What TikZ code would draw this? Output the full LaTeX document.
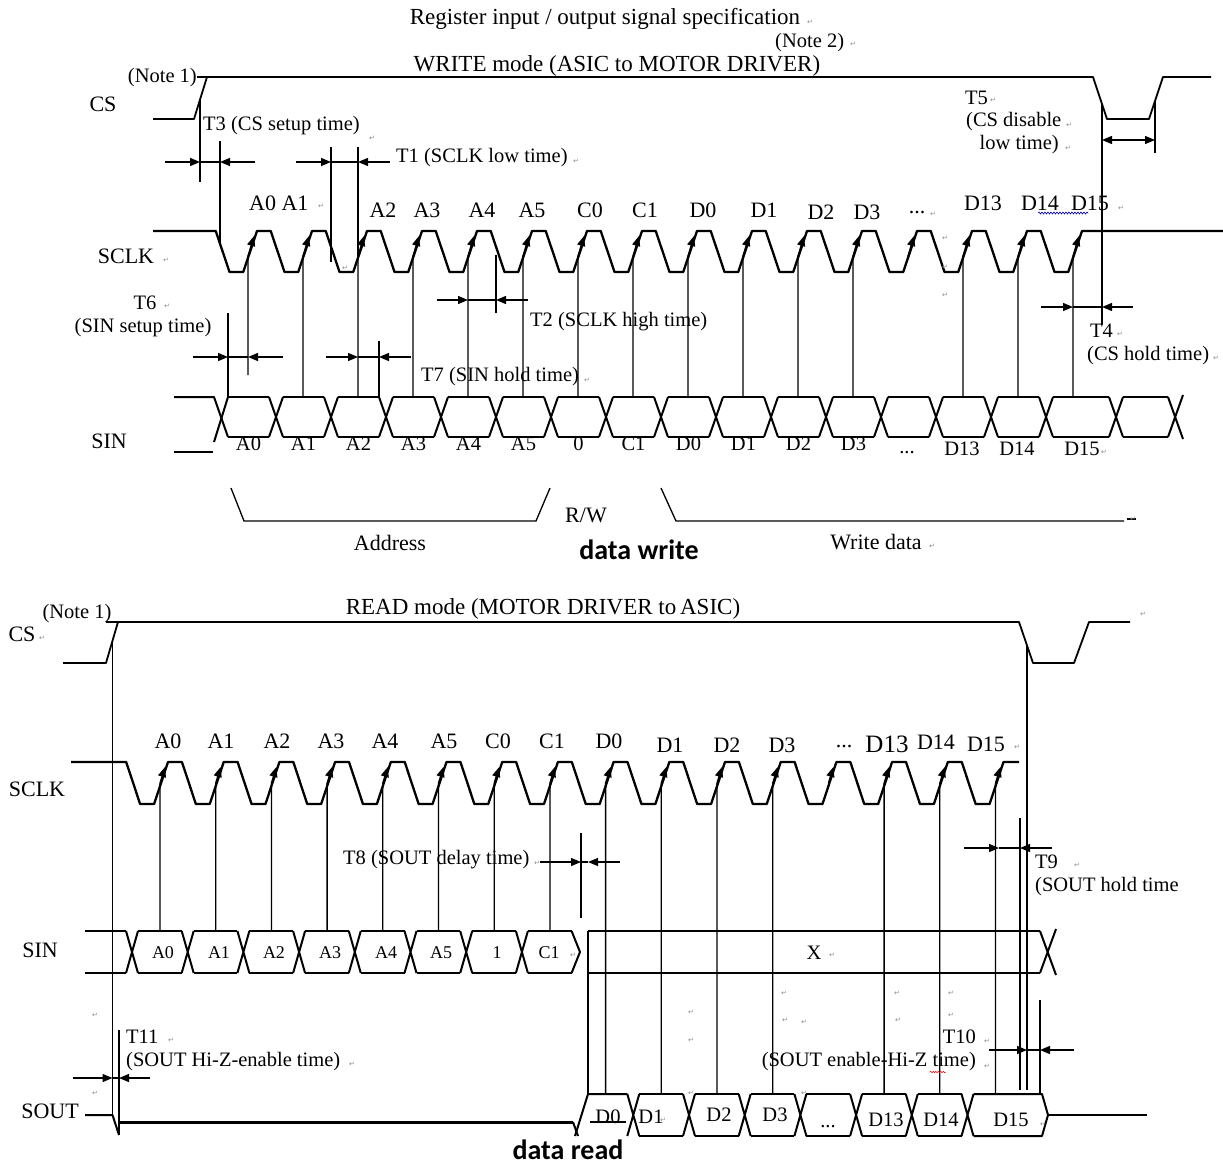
\documentclass[tikz,border=0pt]{standalone}
\usepackage{fontspec}
\setmainfont{Liberation Serif}
\newfontfamily\calibrifont{Carlito}
\newfontfamily\pmfont{DejaVu Sans}
\usetikzlibrary{arrows.meta,decorations.pathmorphing}
\begin{document}
\begin{tikzpicture}[x=1pt,y=-1pt,
  wv/.style={line width=2.3pt,line join=round},
  sinw/.style={line width=2pt,line join=round},
  csw/.style={line width=1.8pt,line join=round},
  mk/.style={line width=1.3pt},
  tipb/.style={-{Triangle[length=10pt,width=8pt]}},
  dbl/.style={{Triangle[length=10pt,width=8pt]}-{Triangle[length=10pt,width=8pt]}},
  lab/.style={inner sep=0pt,font=\fontsize{22}{26}\selectfont},
  tx/.style={inner sep=0pt,font=\fontsize{20.5}{24}\selectfont},
  hd/.style={inner sep=0pt,font=\fontsize{23}{27}\selectfont},
  sm/.style={inner sep=0pt,font=\fontsize{18}{22}\selectfont},
  bld/.style={inner sep=0pt,font=\calibrifont\bfseries\fontsize{28}{32}\selectfont},
  pm/.style={inner sep=0pt,text=black!45,font=\pmfont\fontsize{7}{8}\selectfont}
]
\useasboundingbox (0,0) rectangle (1223,1167);
\fill[white] (0,0) rectangle (1223,1167);

%================ WRITE MODE ================
\node[hd] (title) at (605,19) {Register input / output signal specification};
\node[tx,anchor=west] (note2) at (775,43) {(Note 2)};
\node[hd] (wmode) at (617,66) {WRITE mode (ASIC to MOTOR DRIVER)};
\node[tx,anchor=east] (note1w) at (197,78) {(Note 1)};
\node[lab] (wcs) at (103,104) {CS};
\node[lab] (wsclk) at (126,256) {SCLK};
\node[lab] (wsin) at (109,441) {SIN};

% CS
\draw[csw] (153,119)--(194,119)--(207,77)--(1093,77)--(1107,119)--(1149,119)--(1163,77)--(1211,77);
\draw[csw] (197,77)--(207,77);

% SCLK
\draw[wv] (153,231)--(215.75,231)--(229.5,272)--(243.25,272)--(257,231)
  \foreach \k in {0,...,14}{--({257+55*\k+13.75},231)--({257+55*\k+27.5},272)--({257+55*\k+41.25},272)--({257+55*\k+55},231)}
  --(1223,231);

% SCLK labels
\node[lab,anchor=west] (wlA01) at (249,203) {A0 A1};
\foreach \x/\y/\s [count=\i] in {383/210/A2,427/210/A3,482/210/A4,532/210/A5,590/210/C0,645/210/C1,703/210/D0,764/210/D1,821/212/D2,867/212/D3,983/203/D13,1040/203/D14,1090/203/D15}
  \node[lab] (wl\i) at (\x,\y) {\s};
\node[lab] (wldots) at (917,213) {...};
\draw[blue!75!black,line width=0.6pt,decorate,decoration={snake,amplitude=1pt,segment length=3pt}] (1038,213)--(1088,213);

% arrows from SIN up to SCLK rising edges
\foreach \k/\bt in {0/375,1/397,2/397,3/397,4/397,5/397,6/397,7/397,8/397,9/397,10/397,11/397,13/397,14/397,15/397}
  \draw[mk,tipb] ({257+55*\k-9},\bt)--({257+55*\k-9},256)--({257+55*\k-3},236);
\draw[mk,tipb] ({257+55*12-9},256)--({257+55*12-3},236);

% SIN write
\draw[sinw] (174,397)--(214,397)--(228,437);
\draw[sinw] (214,442)--(228,397);
\draw[sinw] (174,452)--(213,452);
\foreach \a/\b in {221/276,276/331,331/386,386/441,441/496,496/551,551/606,606/661,661/716,716/771,771/826,826/881,881/936,936/991,991/1046,1046/1116,1116/1175}
  \draw[sinw] ({\a+7},397)--({\b-7},397) ({\a+7},437)--({\b-7},437);
\foreach \c in {276,331,386,441,496,551,606,661,716,771,826,881,936,991,1046,1116}
  \draw[sinw] ({\c-7},397)--({\c+7},437) ({\c-7},437)--({\c+7},397);
\draw[sinw] (1168,397)--(1183,439) (1168,437)--(1183,395);

\foreach \x/\s [count=\i] in {248.5/A0,303.5/A1,358.5/A2,413.5/A3,468.5/A4,523.5/A5,578.5/0,633.5/C1,688.5/D0,743.5/D1,798.5/D2,853.5/D3}
  \node[tx] (ws\i) at (\x,444) {\s};
\node[tx] (wsdots) at (907,453) {...};
\node[tx] (ws13) at (962,449) {D13};
\node[tx] (ws14) at (1017,449) {D14};
\node[tx] (ws15) at (1082,449) {D15};

% T3
\draw[mk] (200,100)--(200,182);
\draw[mk] (220,141)--(220,244);
\draw[mk,tipb] (165,162)--(200,162);
\draw[mk,tipb] (255,162)--(220,162);
\draw[mk] (200,162)--(220,162);
\node[tx,anchor=west] (t3) at (203,126) {T3 (CS setup time)};
% T1
\draw[mk] (331,147)--(331,262);
\draw[mk] (358,147)--(358,256);
\draw[mk,tipb] (296,162)--(331,162);
\draw[mk,tipb] (390,162)--(358,162);
\draw[mk] (331,162)--(358,162);
\node[tx,anchor=west] (t1) at (396,158) {T1 (SCLK low time)};
% T6
\draw[mk] (228,313)--(228,397);
\draw[mk,tipb] (193,357)--(228,357);
\draw[mk,tipb] (283,357)--(248,357);
\draw[mk] (228,357)--(248,357);
\node[tx] (t6a) at (145,303) {T6};
\node[tx] (t6b) at (143,328) {(SIN setup time)};
% T7
\draw[mk] (379,341)--(379,397);
\draw[mk,tipb] (326,357)--(358,357);
\draw[mk,tipb] (411,357)--(379,357);
\draw[mk] (358,357)--(379,357);
\node[tx,anchor=west] (t7) at (421,377) {T7 (SIN hold time)};
% T2
\draw[mk] (496,255)--(496,313);
\draw[mk,tipb] (437,300)--(468,300);
\draw[mk,tipb] (528,300)--(496,300);
\draw[mk] (468,300)--(496,300);
\node[tx,anchor=west] (t2) at (530,322) {T2 (SCLK high time)};
% T4 / T5
\draw[mk] (1102,104)--(1102,325);
\draw[mk] (1155,101)--(1155,153);
\draw[mk,dbl] (1102,140)--(1155,140);
\draw[mk,tipb] (1041,307)--(1073,307);
\draw[mk,tipb] (1133,307)--(1102,307);
\draw[mk] (1073,307)--(1102,307);
\node[tx,anchor=west] (t5a) at (965,98) {T5};
\node[tx,anchor=west] (t5b) at (966,122) {(CS disable};
\node[tx,anchor=east] (t5c) at (1059,145) {low time)};
\node[tx,anchor=west] (t4a) at (1090,331) {T4};
\node[tx,anchor=west] (t4b) at (1087,356) {(CS hold time)};

% brackets
\draw[mk] (231,488)--(244,521)--(536,521)--(550,488);
\draw[mk] (661,488)--(676,521)--(1124,521);
\draw[mk] (1127,519)--(1136,519);
\node[lab] (addr) at (390,543) {Address};
\node[lab] (rw) at (586,515) {R/W};
\node[lab] (wdata) at (876,542) {Write data};
\node[bld] (dwrite) at (639,550) {data write};

%================ READ MODE ================
\node[tx] (note1r) at (77,614) {(Note 1)};
\node[lab] (rcs) at (22,634) {CS};
\node[hd] (rmode) at (543,609) {READ mode (MOTOR DRIVER to\,ASIC)};
\node[lab] (rsclk) at (37,789) {SCLK};
\node[lab] (rsin) at (40,950) {SIN};
\node[lab] (rsout) at (50,1111) {SOUT};

% CS
\draw[csw] (63,663)--(106,663)--(118,622)--(1019,622)--(1033,663)--(1074,663)--(1089,622)--(1130,622);
\draw[csw] (106,622)--(118,622);

% SCLK
\draw[wv] (71,762)--(126.2,762)--(140.1,804)--(154.1,804)--(168,762)
  \foreach \k in {0,...,14}{--({168+55.7*\k+13.925},762)--({168+55.7*\k+27.85},804)--({168+55.7*\k+41.775},804)--({168+55.7*\k+55.7},762)}
  --(1019,762);

\foreach \x/\y/\s [count=\i] in {168/741/A0,221/741/A1,277/741/A2,331/741/A3,385/741/A4,444/741/A5,498/741/C0,552/741/C1,609/741/D0,670/745/D1,727/745/D2,782/745/D3,936/742/D14,986/744/D15}
  \node[lab] (rl\i) at (\x,\y) {\s};
\node[lab] (rldots) at (844,747) {...};
\node[inner sep=0pt,font=\fontsize{25}{28}\selectfont] (rl13) at (887,744) {D13};

\foreach \k/\bt in {0/931,1/931,2/931,3/931,4/931,5/931,6/931,7/931,8/1094,9/1094,10/1094,11/1094,13/1094,14/1094,15/1094}
  \draw[mk,tipb] ({168+55.7*\k-8},\bt)--({168+55.7*\k-8},783)--({168+55.7*\k-3},767);
\draw[mk,tipb] ({168+55.7*12-8},783)--({168+55.7*12-3},767);

% SIN read
\draw[sinw] (85,931)--(126,931) (85,973)--(126,973);
\foreach \j in {0,...,7}{
  \draw[sinw] ({132+55.7*\j-6},931)--({132+55.7*\j+6},973) ({132+55.7*\j-6},973)--({132+55.7*\j+6},931);
  \draw[sinw] ({132+55.7*\j+6},931)--({132+55.7*(\j+1)-6},931) ({132+55.7*\j+6},973)--({132+55.7*(\j+1)-6},973);
}
\draw[sinw] (571.6,931)--(580,952)--(571.6,973);
\draw[sinw] (588,931)--(1040,931) (588,973)--(1040,973);
\draw[sinw] (1040,931)--(1056,975) (1040,973)--(1056,929);
\foreach \x/\s [count=\i] in {163/A0,219/A1,274/A2,330/A3,386/A4,441/A5,497/1,549/C1}
  \node[sm] (rs\i) at (\x,953) {\s};
\node[tx] (rsx) at (814,953) {X};

% SOUT
\draw[sinw] (85,1115)--(112.5,1115)--(119,1135);
\draw[mk] (112.5,641)--(112.5,1115);
\draw[mk] (119,1030)--(119,1135);
\draw[line width=3pt] (119,1122)--(573,1122);
\draw[sinw] (573,1122)--(578,1136);
\draw[sinw] (575,1136)--(588,1094)--(627.3,1094);
\draw[mk] (590,1122)--(626,1122);
\foreach \j in {9,...,15}
  \draw[sinw] ({132+55.7*\j-6},1094)--({132+55.7*\j+6},1136) ({132+55.7*\j-6},1136)--({132+55.7*\j+6},1094);
\foreach \j in {9,...,14}
  \draw[sinw] ({132+55.7*\j+6},1094)--({132+55.7*(\j+1)-6},1094) ({132+55.7*\j+6},1136)--({132+55.7*(\j+1)-6},1136);
\draw[sinw] (973.5,1094)--(1042,1094)--(1048,1115)--(1042,1136)--(973.5,1136);
\draw[sinw] (1048,1115)--(1147,1115);
\foreach \x/\y/\s [count=\i] in {608/1117/D0,651/1117/D1,719/1115/D2,775/1115/D3,886/1120/D13,941/1120/D14,1011/1120/D15}
  \node[tx] (so\i) at (\x,\y) {\s};
\node[tx] (sodots) at (828,1127) {...};

% T8
\draw[mk] (581,833)--(581,918);
\draw[mk] (588,931)--(588,1094);
\draw[mk,tipb] (540,862)--(581,862);
\draw[mk,tipb] (620,862)--(588,862);
\draw[mk] (581,862)--(588,862);
\node[tx,anchor=west] (t8) at (343,860) {T8 (SOUT delay time)};
% T9
\draw[mk] (1020,818)--(1020,1090);
\draw[mk] (1027,645)--(1027,1090);
\draw[mk,tipb] (964,848)--(999,848);
\draw[mk,tipb] (1052,848)--(1020,848);
\draw[mk] (999,848)--(1020,848);
\node[tx,anchor=west] (t9a) at (1035,862) {T9};
\begin{scope}
\clip (1030,870) rectangle (1178,905);
\node[tx,anchor=west] (t9b) at (1035,887) {(SOUT hold time)};
\end{scope}
% T10
\draw[mk] (1040,1000)--(1040,1094);
\draw[mk,tipb] (989,1050)--(1027,1050);
\draw[mk,tipb] (1074,1050)--(1040,1050);
\draw[mk] (1027,1050)--(1040,1050);
\node[tx,anchor=east] (t10a) at (976,1037) {T10};
\node[tx,anchor=east] (t10b) at (976,1062) {(SOUT enable-Hi-Z time)};
\draw[red,line width=0.5pt,decorate,decoration={snake,amplitude=0.8pt,segment length=2.5pt}] (930,1072)--(946,1072);
% T11
\draw[mk,tipb] (73,1078)--(112.5,1078);
\draw[mk,tipb] (150,1078)--(119,1078);
\draw[mk] (112.5,1078)--(119,1078);
\node[tx,anchor=west] (t11a) at (126,1037) {T11};
\node[tx,anchor=west] (t11b) at (126,1062) {(SOUT Hi-Z-enable time)};

\node[bld] (dread) at (568,1150) {data read};

% paragraph marks
\foreach \x/\y [count=\i] in {810/22,853/44,372/138,576/161,321/206,345/268,166/260,933/214,945/238,945/267,945/295,167/306,587/380,993/100,1069/125,1068/148,1121/208,1120/334,1216/358,1104/452,932/546,1133/519,
  42/638,1143/614,1017/747,573/955,832/955,537/863,1077/865,171/1040,352/1064,987/1041,987/1066,663/1120,1043/1124,
  95/1015,95/1093,691/1012,691/1040,785/1020,804/1022,691/1093,804/1093,898/1020,951/1015,784/993,897/993,951/993}
  \node[pm] (pm\i) at (\x,\y) {↵};
\end{tikzpicture}
\end{document}
